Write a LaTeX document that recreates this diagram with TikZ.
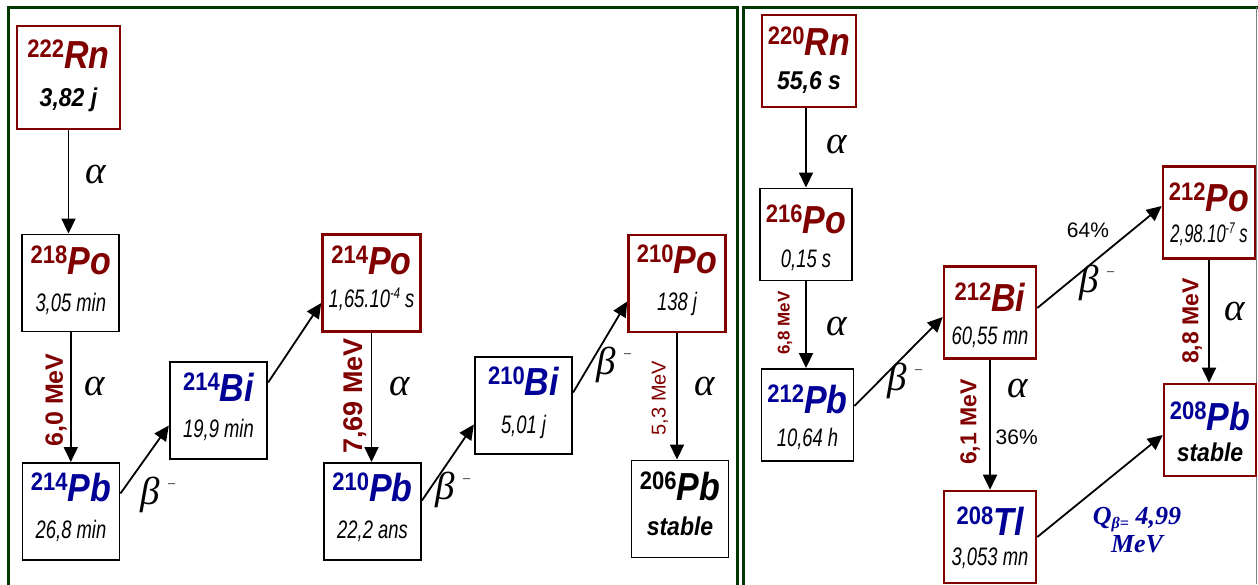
\documentclass[tikz,border=0pt]{standalone}
\usepackage{fontspec}
\setmainfont{Liberation Sans}
\newfontfamily\seriffont{Liberation Serif}
\usepackage{graphicx}
\usetikzlibrary{positioning, arrows.meta}

\definecolor{chainred}{RGB}{128,0,0}
\definecolor{chainblue}{RGB}{0,0,150}
\definecolor{framegreen}{RGB}{0,55,0}

\newcommand{\nuc}[2]{\scalebox{1}[1.15]{\raisebox{9.5pt}{\fontsize{22}{22}\selectfont\bfseries #1}{\fontsize{34}{34}\selectfont\bfseries\itshape #2}}}
\newcommand{\life}[1]{\scalebox{0.8}[1.1]{\fontsize{23}{23}\selectfont\itshape #1}}
\newcommand{\blife}[1]{\scalebox{1}[1.12]{\fontsize{23}{23}\selectfont\bfseries\itshape #1}}
\newcommand{\expo}[1]{\raisebox{8pt}{\fontsize{14}{14}\selectfont #1}}
\newcommand{\betam}{β\hspace{8pt}\raisebox{17pt}{\fontsize{14}{14}\selectfont\upshape –}}

\begin{document}
\begin{tikzpicture}[x=1pt,y=-1pt,
  redbox/.style={draw=chainred, line width=2.6pt, minimum width=97pt, minimum height=97pt, inner sep=0pt},
  blackbox/.style={draw=black, line width=1.9pt, minimum width=97pt, minimum height=97pt, inner sep=0pt},
  small/.style={minimum width=92pt, minimum height=92pt},
  frame/.style={draw=framegreen, line width=3pt},
  decay/.style={-{Triangle[length=15pt,width=14pt]}, line width=1.8pt},
  greek/.style={font=\seriffont\itshape\fontsize{39}{39}\selectfont, inner sep=0pt},
  mev/.style={rotate=90, text=chainred, inner sep=0pt},
  pct/.style={font=\fontsize{21}{21}\selectfont, inner sep=0pt}]

\useasboundingbox (0,0) rectangle (1258,584);

% Frames
\draw[frame] (8,7) rectangle (737.5,600);
\draw[frame] (743,7) rectangle (1275,600);
\draw[gray, line width=1pt] (1256.8,7) -- (1256.8,584);

% Radon 222 chain
\node[redbox, minimum width=103pt, minimum height=103pt] (rn222) at (68.5,77.5) {};
\node[blackbox] (po218) at (70.8,283) {};
\node[blackbox] (pb214) at (71,511.5) {};
\node[blackbox, line width=2.3pt] (bi214) at (218.5,410.5) {};
\node[redbox, minimum width=98pt] (po214) at (371.5,283) {};
\node[blackbox] (pb210) at (372.5,511.5) {};
\node[blackbox, line width=2.3pt] (bi210) at (523.5,405.5) {};
\node[redbox] (po210) at (677,283.5) {};
\node[blackbox] (pb206) at (680,509) {};

% Radon 220 chain
\node[redbox, small, minimum width=94pt] (rn220) at (809,61) {};
\node[blackbox, small] (po216) at (806,234.5) {};
\node[blackbox, small] (pb212) at (807.5,415) {};
\node[redbox, small] (bi212) at (990,312.5) {};
\node[redbox, small] (po212) at (1209,212.5) {};
\node[redbox, small] (pb208) at (1210,430) {};
\node[redbox, small] (tl208) at (990,537) {};

% Names
\node[above=9.5pt of rn222.center, anchor=base, text=chainred] (rn222name) {\nuc{222}{Rn}};
\node[above=9pt of po218.center, anchor=base, text=chainred] (po218name) {\nuc{218}{Po}};
\node[above=10pt of pb214.center, anchor=base, text=chainblue] (pb214name) {\nuc{214}{Pb}};
\node[above=9pt of bi214.center, anchor=base, text=chainblue] (bi214name) {\nuc{214}{Bi}};
\node[above=9pt of po214.center, anchor=base, text=chainred] (po214name) {\nuc{214}{Po}};
\node[above=10pt of pb210.center, anchor=base, text=chainblue] (pb210name) {\nuc{210}{Pb}};
\node[above=10.5pt of bi210.center, anchor=base, text=chainblue] (bi210name) {\nuc{210}{Bi}};
\node[above=10pt of po210.center, anchor=base, text=chainred] (po210name) {\nuc{210}{Po}};
\node[above=9pt of pb206.center, anchor=base] (pb206name) {\nuc{206}{Pb}};
\node[above=6pt of rn220.center, anchor=base, text=chainred] (rn220name) {\nuc{220}{Rn}};
\node[above=1pt of po216.center, anchor=base, text=chainred] (po216name) {\nuc{216}{Po}};
\node[above=2pt of pb212.center, anchor=base, text=chainblue] (pb212name) {\nuc{212}{Pb}};
\node[above=1pt of bi212.center, anchor=base, text=chainred] (bi212name) {\nuc{212}{Bi}};
\node[above=1pt of po212.center, anchor=base, text=chainred] (po212name) {\nuc{212}{Po}};
\node[above=0pt of pb208.center, anchor=base, text=chainblue] (pb208name) {\nuc{208}{Pb}};
\node[above=2pt of tl208.center, anchor=base, text=chainblue] (tl208name) {\nuc{208}{Tl}};

% Half-lives
\node[below=28.5pt of rn222.center, anchor=base] (rn222life) {\blife{3,82 j}};
\node[below=28pt of po218.center, anchor=base] (po218life) {\life{3,05 min}};
\node[below=27pt of pb214.center, anchor=base] (pb214life) {\life{26,8 min}};
\node[below=26.5pt of bi214.center, anchor=base] (bi214life) {\life{19,9 min}};
\node[below=24pt of po214.center, anchor=base] (po214life) {\life{1,65.10\expo{-4} s}};
\node[below=27pt of pb210.center, anchor=base] (pb210life) {\life{22,2 ans}};
\node[below=27.5pt of bi210.center, anchor=base] (bi210life) {\life{5,01 j}};
\node[below=26.5pt of po210.center, anchor=base] (po210life) {\life{138 j}};
\node[below=26pt of pb206.center, anchor=base] (pb206life) {\blife{stable}};
\node[below=28pt of rn220.center, anchor=base] (rn220life) {\blife{55,6 s}};
\node[below=33pt of po216.center, anchor=base] (po216life) {\life{0,15 s}};
\node[below=31.7pt of pb212.center, anchor=base] (pb212life) {\life{10,64 h}};
\node[below=31.5pt of bi212.center, anchor=base] (bi212life) {\life{60,55 mn}};
\node[below=30pt of po212.center, anchor=base] (po212life) {\scalebox{0.9}[1]{\life{2,98.10\expo{-7} s}}};
\node[below=31.7pt of pb208.center, anchor=base] (pb208life) {\blife{stable}};
\node[below=28pt of tl208.center, anchor=base] (tl208life) {\life{3,053 mn}};

% Decays
\draw[decay] (rn222.south) -- (rn222.south |- po218.north);
\draw[decay] (po218.south) -- (po218.south |- pb214.north);
\draw[decay] ([yshift=18pt]pb214.east) -- ([yshift=-15pt]bi214.west);
\draw[decay] ([yshift=28pt]bi214.east) -- ([yshift=-20pt]po214.west);
\draw[decay] (po214.south) -- (po214.south |- pb210.north);
\draw[decay] ([yshift=11pt]pb210.east) -- ([yshift=-19pt]bi210.west);
\draw[decay] ([yshift=13pt]bi210.east) -- ([yshift=-18pt]po210.west);
\draw[decay] (po210.south) -- (po210.south |- pb206.north);
\draw[decay] (po216.north |- rn220.south) -- (po216.north);
\draw[decay] (po216.south) -- (po216.south |- pb212.north);
\draw[decay] ([yshift=9pt]pb212.east) -- ([yshift=-4.5pt]bi212.west);
\draw[decay] ([yshift=4.5pt]bi212.east) -- ([yshift=6.5pt]po212.west);
\draw[decay] (bi212.south) -- (bi212.south |- tl208.north);
\draw[decay] (po212.south) -- (po212.south |- pb208.north);
\draw[decay] (tl208.east) -- ([yshift=-5pt]pb208.west);

% Alpha and beta labels
\node[greek] (a1) at (95.5,174) {α};
\node[greek] (a2) at (95,386.7) {α};
\node[greek] (a3) at (400,386.7) {α};
\node[greek] (a4) at (705,386.7) {α};
\node[greek] (a5) at (837,144) {α};
\node[greek] (a6) at (837,326.7) {α};
\node[greek] (a7) at (1017.8,388.7) {α};
\node[greek] (a8) at (1234.5,311.7) {α};
\node[greek] (b1) at (158,495) {\betam};
\node[greek] (b2) at (453,490) {\betam};
\node[greek] (b3) at (614,365) {\betam};
\node[greek] (b4) at (905,381) {\betam};
\node[greek] (b5) at (1097,283) {\betam};

% Branching ratios
\node[pct] (p64) at (1088,230.5) {64\%};
\node[pct] (p36) at (1016.7,437) {36\%};

% Energies
\node[mev, font=\fontsize{25}{25}\selectfont\bfseries] (e1) at (56,400) {6,0 MeV};
\node[mev, font=\fontsize{27}{27}\selectfont\bfseries] (e2) at (355,396) {7,69 MeV};
\node[mev, font=\fontsize{20}{20}\selectfont] (e3) at (660,398) {5,3 MeV};
\node[mev, font=\fontsize{17}{17}\selectfont\bfseries] (e4) at (785,323) {6,8 MeV};
\node[mev, font=\fontsize{23}{23}\selectfont\bfseries] (e5) at (970,422) {6,1 MeV};
\node[mev, font=\fontsize{23}{23}\selectfont\bfseries] (e6) at (1192,321) {8,8 MeV};
\node[align=center, text=chainblue, font=\seriffont\bfseries\itshape\fontsize{26}{28}\selectfont] (qbeta) at (1137,530) {Q\raisebox{-4pt}{\fontsize{16}{16}\selectfont β=} 4,99\\MeV};
\end{tikzpicture}
\end{document}
